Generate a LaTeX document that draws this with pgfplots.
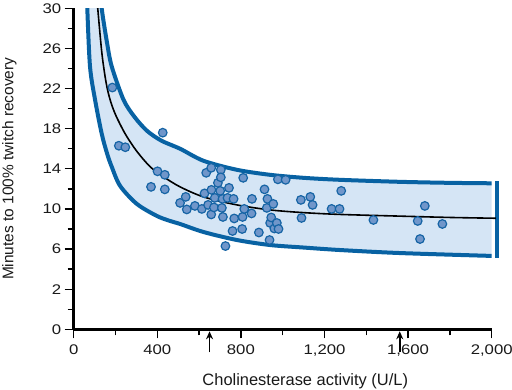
\documentclass[border=0pt]{standalone}
\usepackage{fontspec}
\setmainfont{Liberation Sans}
\newfontfamily\tickfont{Liberation Sans}[FakeStretch=1.2]
\usepackage{pgfplots}
\pgfplotsset{compat=1.18}
\usepgfplotslibrary{fillbetween}
\usetikzlibrary{arrows.meta}
\definecolor{bandfill}{RGB}{213,229,245}
\definecolor{bandline}{RGB}{8,98,163}
\definecolor{ptfill}{RGB}{112,150,202}
\definecolor{ptline}{RGB}{22,100,165}
\begin{document}
\begin{tikzpicture}
\begin{axis}[
  scale only axis, width=418bp, height=321bp,
  xmin=0, xmax=2000, ymin=-2, ymax=30,
  axis x line=bottom, axis y line=left,
  axis line style={-, line width=2.4bp, black},
  clip=true,
  xtick={0,400,800,1200,1600,2000},
  xticklabels={0,400,800,{1,200},{1,600},{2,000}},
  minor xtick={200,600,1000,1400,1800},
  ytick={-2,2,6,10,14,18,22,26,30},
  yticklabels={0,2,6,10,14,18,22,26,30},
  minor ytick={0,4,8,12,16,20,24,28},
  tick align=outside,
  major tick length=9bp, minor tick length=6bp,
  tick style={line width=1.3bp, black},
  ticklabel style={font=\tickfont\fontsize{14}{16}\selectfont, text=black!90},
  xticklabel style={yshift=-3bp},
  /pgf/number format/assume math mode=true,
  xlabel={Cholinesterase activity (U/L)},
  ylabel={Minutes to 100\% twitch recovery},
  xlabel style={font=\fontsize{16.5}{19}\selectfont, text=black!90, at={(axis description cs:0.554,-0.1766)}, anchor=base},
  ylabel style={font=\fontsize{15.5}{18}\selectfont, text=black!90, at={(axis description cs:-0.1536,0.5)}, anchor=center},
]
\addplot[name path=U, draw=none, smooth] coordinates {
(130,32)(134,30)(160,26.5)(182,24.2)(238,20.9)(290,19.2)(350,17.8)(420,16.8)(509,16.0)(621,14.8)(781,13.9)(940,13.4)(1100,13.1)(1276,12.9)(1563,12.7)(1800,12.6)(2025,12.55)};
\addplot[name path=L, draw=none, smooth] coordinates {
(63,32)(65,30)(78,24.2)(102,20.9)(134,17.5)(160,15.5)(182,14.2)(222,12.3)(302,10.5)(398,9.3)(461,8.8)(509,8.5)(621,7.7)(781,6.9)(940,6.4)(1100,6.15)(1276,5.9)(1563,5.6)(2025,5.3)};
\addplot[bandfill] fill between[of=U and L];
\addplot[bandline, line width=4bp, smooth] coordinates {
(130,32)(134,30)(160,26.5)(182,24.2)(238,20.9)(290,19.2)(350,17.8)(420,16.8)(509,16.0)(621,14.8)(781,13.9)(940,13.4)(1100,13.1)(1276,12.9)(1563,12.7)(1800,12.6)(2025,12.55)};
\addplot[bandline, line width=4bp, smooth] coordinates {
(63,32)(65,30)(78,24.2)(102,20.9)(134,17.5)(160,15.5)(182,14.2)(222,12.3)(302,10.5)(398,9.3)(461,8.8)(509,8.5)(621,7.7)(781,6.9)(940,6.4)(1100,6.15)(1276,5.9)(1563,5.6)(2025,5.3)};
\end{axis}
\begin{axis}[
  scale only axis, width=418bp, height=321bp,
  xmin=0, xmax=2000, ymin=-2, ymax=30,
  hide axis, clip=false,
]
\addplot[bandline, line width=4bp, line cap=rect] coordinates {(2025,12.55)(2025,5.3)};
\begin{scope}
\clip (axis cs:0,-2) rectangle (axis cs:2100,30);
\addplot[black, line width=1.6bp, smooth] coordinates {
(112,31)(115,30)(135,25.5)(155,22.6)(174,20.9)(200,19.4)(246,17.5)(300,15.8)(366,14.2)(430,13.2)(509,12.2)(621,11.2)(781,10.4)(940,9.9)(1100,9.63)(1276,9.45)(1563,9.28)(1800,9.15)(2020,9.07)};
\end{scope}
\addplot[only marks, mark=*, mark size=4.3bp, mark options={fill=ptfill, draw=ptline, line width=1.2bp}] coordinates {
(185,22.1)(426,17.6)(216,16.3)(247,16.15)(370,12.2)(401,13.75)(436,13.4)(436,11.95)
(509,10.6)(536,11.2)(541,9.95)(580,10.3)(613,10.0)(626,11.55)(634,13.6)(643,10.4)
(658,14.1)(659,11.9)(658,9.45)(671,10.15)(675,11.1)(690,12.6)(701,11.8)(704,13.9)
(704,13.15)(709,10.1)(712,11.0)(714,9.2)(726,6.3)(736,11.1)(743,12.1)(760,7.8)
(765,11.0)(768,9.05)(806,8.0)(808,9.2)(811,13.1)(816,10.0)(851,9.55)(853,11.0)
(886,7.65)(913,11.95)(924,10.1)(927,11.0)(937,6.9)(940,8.6)(945,9.15)(955,10.5)
(960,8.05)(972,8.6)(977,12.95)(980,8.0)(1014,12.9)(1087,10.9)(1090,9.1)(1132,11.2)
(1143,10.4)(1234,10.0)(1272,10.0)(1280,11.8)(1434,8.9)(1646,8.8)(1657,7.0)(1680,10.3)
(1764,8.5)};
\addplot[black, line width=1.6bp, -{Stealth[length=8bp, width=7bp]}] coordinates {(650,-4.3)(650,-2.2)};
\addplot[black, line width=1.6bp, -{Stealth[length=8bp, width=7bp]}] coordinates {(1560,-4.3)(1560,-2.2)};
\end{axis}
\pgfresetboundingbox
\useasboundingbox (-73.7bp,-60.7bp) rectangle (438.3bp,329.3bp);
\end{tikzpicture}
\end{document}
